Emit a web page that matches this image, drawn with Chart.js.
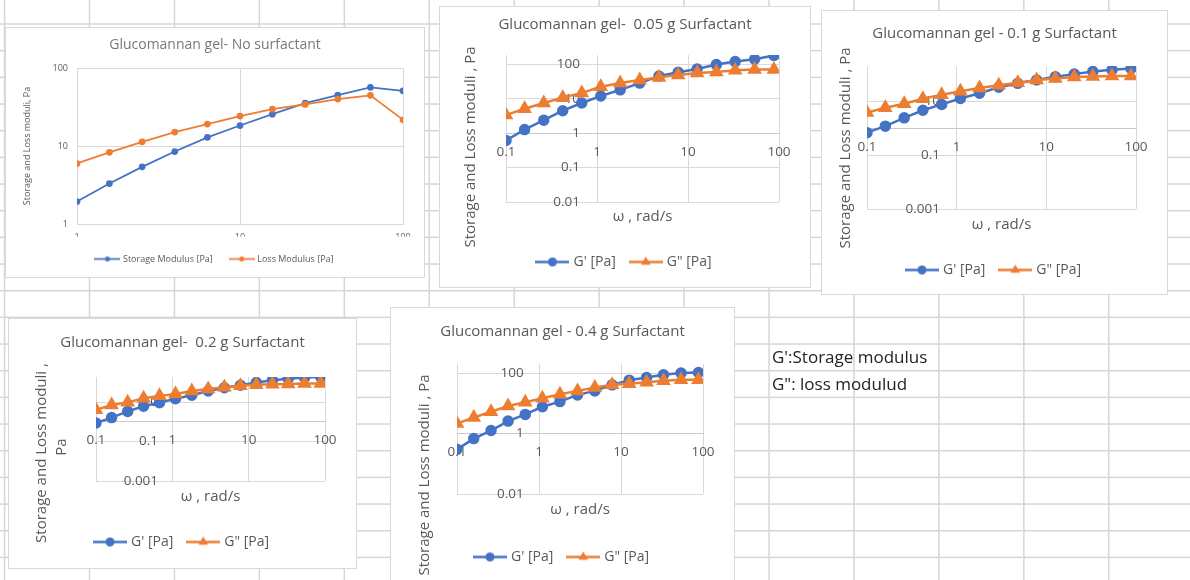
<!DOCTYPE html>
<html>
<head>
<meta charset="utf-8">
<script src="https://cdn.jsdelivr.net/npm/chart.js@4.4.0/dist/chart.umd.min.js"></script>
<style>
  html, body { margin: 0; padding: 0; background: #fff; }
  body { width: 1190px; height: 580px; position: relative; overflow: hidden; font-family: "Open Sans", sans-serif; }
  #sheet { position: absolute; left: 0; top: 0; }
  .box { position: absolute; background: #fff; border: 1px solid #d9d9d9; box-sizing: border-box; }
  .box canvas { position: absolute; left: 0; top: 0; }
  .note { position: absolute; left: 772px; height: 26.6px; line-height: 26.6px; font-size: 17px; color: #222; white-space: pre; }
</style>
</head>
<body>
<canvas id="sheet" width="1190" height="580"></canvas>
<div class="note" style="top:344px">G':Storage modulus</div>
<div class="note" style="top:371px">G": loss modulud</div>

<div class="box" style="left:5px;top:27px;width:420px;height:251px"><canvas id="c1" width="418" height="249"></canvas></div>
<div class="box" style="left:439px;top:6px;width:372px;height:282px"><canvas id="c2" width="370" height="280"></canvas></div>
<div class="box" style="left:821px;top:10px;width:347px;height:285px"><canvas id="c3" width="345" height="283"></canvas></div>
<div class="box" style="left:8px;top:318px;width:349px;height:251px"><canvas id="c4" width="347" height="249"></canvas></div>
<div class="box" style="left:390px;top:307px;width:345px;height:274px"><canvas id="c5" width="343" height="272"></canvas></div>

<script>
// ---- data ----
// no surfactant
const freq0 = [1, 1.58, 2.51, 3.98, 6.31, 10, 15.8, 25.1, 39.8, 63.1, 100];
const storage0 = [1.94, 3.3, 5.4, 8.5, 12.9, 18.3, 25.6, 35.5, 45, 56.5, 51];
const loss0 = [5.96, 8.3, 11.3, 15.1, 19.1, 24.2, 29.7, 34.1, 40, 44.6, 21.7];
const ticks0 = [1, 10, 100];

// surfactant series share one frequency sweep
const omega = [0.1, 0.16, 0.26, 0.42, 0.68, 1.1, 1.8, 2.95, 4.8, 7.8, 12.6, 20.5, 33, 54, 88];
const omegaTicks = [0.1, 1, 10, 100];

const gp005 = [0.62, 1.28, 2.41, 4.54, 7.6, 12.2, 18.4, 28.9, 46.4, 59.5, 74.6, 100, 122, 143, 184];
const gpp005 = [3.38, 5.2, 7.6, 10.9, 15, 22.5, 28.9, 35.4, 42.4, 49.7, 56.9, 60.8, 68.1, 71.3, 71.3];
const yTicks005 = [0.01, 0.1, 1, 10, 100];

const gp01 = [0.675, 1.18, 2.39, 4.56, 7.55, 12.5, 19.6, 32.5, 45.6, 60.3, 79.8, 100, 125, 144, 161];
const gpp01 = [3.74, 5.7, 8.0, 12.2, 17.1, 23.2, 30.7, 38.5, 48.2, 60.3, 69.4, 77.6, 82.2, 84.5, 84.5];
const yTicks01 = [0.001, 0.1, 10];

const gp02 = [0.86, 1.63, 3.35, 6.1, 9.3, 14.6, 22.1, 36.1, 52.6, 71.1, 96.3, 125, 151, 176, 183];
const gpp02 = [4.04, 7.1, 9.6, 15.7, 20.5, 25.7, 36.1, 45.3, 56.8, 66, 74, 79.8, 82.8, 86, 86];
const yTicks02 = [0.001, 0.1, 10];

const gp04 = [0.3, 0.68, 1.26, 2.58, 4.3, 7.7, 11.4, 19, 25.8, 40.8, 58.4, 71.7, 88, 100, 105];
const gpp04 = [2.15, 3.41, 5.27, 8.15, 10.8, 14.7, 20, 25.8, 33.3, 40.8, 44.1, 50.1, 55.5, 60, 60];
const yTicks04 = [0.01, 1, 100];

// ---- look ----
const blue = '#4472C4';
const orange = '#ED7D31';
const gridGray = '#d9d9d9';
const textGray = '#595959';

Chart.defaults.font.family = '"Open Sans", sans-serif';
Chart.defaults.color = textGray;

// spreadsheet cells behind the charts
const sheet = document.getElementById('sheet').getContext('2d');
sheet.fillStyle = '#d6d6d6';
for (let k = -1; k < 14; k++) sheet.fillRect(89.5 + 84.94 * k - 0.75, 0, 1.5, 580);
for (let k = 0; k < 22; k++) sheet.fillRect(0, 24 + 26.67 * k - 0.75, 1190, 1.5);

// excel style legend key: line with the marker on it
function makeIcon(color, shape, width, radius, lineWidth) {
    const c = document.createElement('canvas');
    c.width = width;
    c.height = Math.ceil(radius * 2 + 4);
    const g = c.getContext('2d');
    const cy = c.height / 2;
    g.strokeStyle = color;
    g.fillStyle = color;
    g.lineWidth = lineWidth;
    g.beginPath(); g.moveTo(0, cy); g.lineTo(width, cy); g.stroke();
    g.beginPath();
    if (shape === 'triangle') {
        g.moveTo(width / 2, cy - radius);
        g.lineTo(width / 2 + radius * 0.87, cy + radius / 2);
        g.lineTo(width / 2 - radius * 0.87, cy + radius / 2);
        g.closePath();
    } else {
        g.arc(width / 2, cy, radius, 0, Math.PI * 2);
    }
    g.fill();
    return c;
}

function legendOpts(icons, size, pad, pointW, maxH) {
    return {
        position: 'bottom',
        maxHeight: maxH,
        labels: {
            usePointStyle: true,
            pointStyleWidth: pointW,
            padding: pad,
            color: textGray,
            font: { size: size },
            generateLabels: chart => Chart.defaults.plugins.legend.labels.generateLabels(chart)
                .sort((a, b) => a.datasetIndex - b.datasetIndex)
                .map(item => Object.assign(item, { pointStyle: icons[item.datasetIndex] }))
        }
    };
}

// one-row legend box is font + padding + 10 high; whatever is left goes under it
function bottomGap(H, legendTop, size, pad) {
    return Math.max(0, (H - legendTop) - (size + pad + 10));
}

function spacer(position, size) {
    return {
        type: 'linear',
        position: position,
        afterFit: s => { if (position === 'bottom') s.height = size; else s.width = size; },
        ticks: { display: false },
        grid: { display: false, drawTicks: false },
        border: { display: false }
    };
}

function logTicks(values) {
    return s => { s.ticks = values.map(v => ({ value: v })); };
}

// rotated y title, placed where excel put it
function yTitlePlugin(lines, size) {
    return {
        id: 'yTitle',
        afterDraw(chart) {
            const ctx = chart.ctx;
            ctx.save();
            ctx.fillStyle = textGray;
            ctx.font = size + 'px "Open Sans", sans-serif';
            ctx.textAlign = 'center';
            ctx.textBaseline = 'middle';
            lines.forEach(l => {
                ctx.save();
                ctx.translate(l.x, l.y);
                ctx.rotate(-Math.PI / 2);
                ctx.fillText(l.text, 0, 0);
                ctx.restore();
            });
            ctx.restore();
        }
    };
}

// ---- chart 1: plain log-log ----
(function () {
    const canvas = document.getElementById('c1');
    const W = canvas.width, H = canvas.height;
    const plot = { left: 71, top: 40, right: 397, bottom: 196 };
    const titleY = 17, legendY = 231, legendPad = 18, legendSize = 9;
    const legendTop = legendY - legendSize / 2 - legendPad;
    const icons = [makeIcon(blue, 'circle', 26, 2.5, 1.75), makeIcon(orange, 'circle', 26, 2.5, 1.75)];

    new Chart(canvas, {
        type: 'line',
        data: {
            datasets: [
                { label: 'Storage Modulus [Pa]', data: freq0.map((x, i) => ({ x: x, y: storage0[i] })),
                  borderColor: blue, backgroundColor: blue, borderWidth: 1.75, pointRadius: 2.5, order: 1 },
                { label: 'Loss Modulus [Pa]', data: freq0.map((x, i) => ({ x: x, y: loss0[i] })),
                  borderColor: orange, backgroundColor: orange, borderWidth: 1.75, pointRadius: 2.5, order: 0 }
            ]
        },
        options: {
            responsive: false,
            animation: false,
            layout: { padding: { bottom: bottomGap(H, legendTop, legendSize, legendPad) } },
            plugins: {
                title: { display: true, text: 'Glucomannan gel- No surfactant', color: '#787878',
                         font: { size: 14, weight: 'normal' },
                         padding: { top: titleY - 8.4, bottom: plot.top - titleY - 8.4 } },
                legend: legendOpts(icons, legendSize, legendPad, 22, H - legendTop),
                tooltip: { enabled: false }
            },
            scales: {
                x: {
                    type: 'logarithmic', min: 1, max: 100, position: 'bottom',
                    afterBuildTicks: logTicks(ticks0),
                    afterFit: s => { s.height = legendTop - plot.bottom; },
                    ticks: { callback: v => String(v), font: { size: 9 }, padding: 7.6, autoSkip: false, maxRotation: 0 },
                    grid: { color: gridGray, drawTicks: false },
                    border: { color: gridGray }
                },
                y: {
                    type: 'logarithmic', min: 1, max: 100, position: 'left',
                    afterBuildTicks: logTicks(ticks0),
                    afterFit: s => { s.width = plot.left; },
                    ticks: { callback: v => String(v), font: { size: 9 }, padding: 9 },
                    grid: { color: gridGray, drawTicks: false },
                    border: { color: gridGray },
                    title: { display: true, text: 'Storage and Loss moduli, Pa', font: { size: 9 },
                             padding: { top: 21 - 5.4, bottom: 0 } }
                },
                yr: spacer('right', W - plot.right)
            }
        }
    });
})();

// ---- charts 2-5: axes crossing at 1 ----
function crossChart(id, titleText, gp, gpp, yMin, yMax, yTicks, lay) {
    const canvas = document.getElementById(id);
    const W = canvas.width, H = canvas.height;
    const [pl, pt, pr, pb] = lay.plot;
    const legendPad = 16, legendSize = 14;
    const legendTop = lay.legend - legendSize / 2 - legendPad;
    const xtH = legendTop - pb;
    const icons = [makeIcon(blue, 'circle', 34, 4.5, 2.5), makeIcon(orange, 'triangle', 34, 5.5, 2.5)];

    return new Chart(canvas, {
        type: 'line',
        data: {
            datasets: [
                { label: "G' [Pa]", data: omega.map((x, i) => ({ x: x, y: gp[i] })),
                  borderColor: blue, backgroundColor: blue, borderWidth: 2.5,
                  pointStyle: 'circle', pointRadius: 4.5, order: 1 },
                { label: 'G" [Pa]', data: omega.map((x, i) => ({ x: x, y: gpp[i] })),
                  borderColor: orange, backgroundColor: orange, borderWidth: 2.5,
                  pointStyle: 'triangle', pointRadius: 6, order: 0 }
            ]
        },
        options: {
            responsive: false,
            animation: false,
            layout: { padding: { bottom: bottomGap(H, legendTop, legendSize, legendPad) } },
            plugins: {
                title: { display: true, text: titleText, color: textGray,
                         font: { size: 15, weight: 'normal' },
                         padding: { top: lay.title - 9, bottom: pt - lay.title - 9 } },
                legend: legendOpts(icons, legendSize, legendPad, 28, H - legendTop),
                tooltip: { enabled: false }
            },
            scales: {
                x: {
                    type: 'logarithmic', min: 0.1, max: 100, position: { y: 1 },
                    afterBuildTicks: logTicks(omegaTicks),
                    ticks: { callback: v => String(v), font: { size: 13.5 }, padding: 10.5, autoSkip: false, maxRotation: 0 },
                    grid: { color: gridGray, drawTicks: false },
                    border: { color: '#c8c8c8' }
                },
                y: {
                    type: 'logarithmic', min: yMin, max: yMax, position: { x: 0.65 },
                    afterBuildTicks: logTicks(yTicks),
                    ticks: { callback: v => String(v), font: { size: 13.5 } },
                    grid: { color: gridGray, drawTicks: false },
                    border: { display: false }
                },
                yl: spacer('left', pl),
                yr: spacer('right', W - pr),
                xt: Object.assign(spacer('bottom', xtH), {
                    title: { display: true, text: 'ω , rad/s', color: textGray, font: { size: 15 },
                             padding: { top: 0, bottom: xtH - (lay.xTitle - pb) - 9 } }
                })
            }
        },
        plugins: [yTitlePlugin(lay.yTitle, 15)]
    });
}

crossChart('c2', 'Glucomannan gel-  0.05 g Surfactant', gp005, gpp005, 0.01, 190, yTicks005, {
    plot: [66, 48, 339, 195], title: 18, xTitle: 210, legend: 255,
    yTitle: [{ text: 'Storage and Loss moduli , Pa', x: 31, y: 140 }]
});
crossChart('c3', 'Glucomannan gel - 0.1 g Surfactant', gp01, gpp01, 0.001, 200, yTicks01, {
    plot: [45, 55, 314, 198], title: 23, xTitle: 214, legend: 259,
    yTitle: [{ text: 'Storage and Loss moduli , Pa', x: 24, y: 137 }]
});
crossChart('c4', 'Glucomannan gel-  0.2 g Surfactant', gp02, gpp02, 0.001, 185, yTicks02, {
    plot: [87, 58, 316, 162], title: 24, xTitle: 178, legend: 223,
    yTitle: [{ text: 'Storage and Loss moduli ,', x: 33, y: 134 }, { text: 'Pa', x: 53, y: 128 }]
});
crossChart('c5', 'Glucomannan gel - 0.4 g Surfactant', gp04, gpp04, 0.01, 200, yTicks04, {
    plot: [66, 56, 312, 186], title: 24, xTitle: 202, legend: 249,
    yTitle: [{ text: 'Storage and Loss moduli , Pa', x: 34, y: 167 }]
});
</script>
</body>
</html>
